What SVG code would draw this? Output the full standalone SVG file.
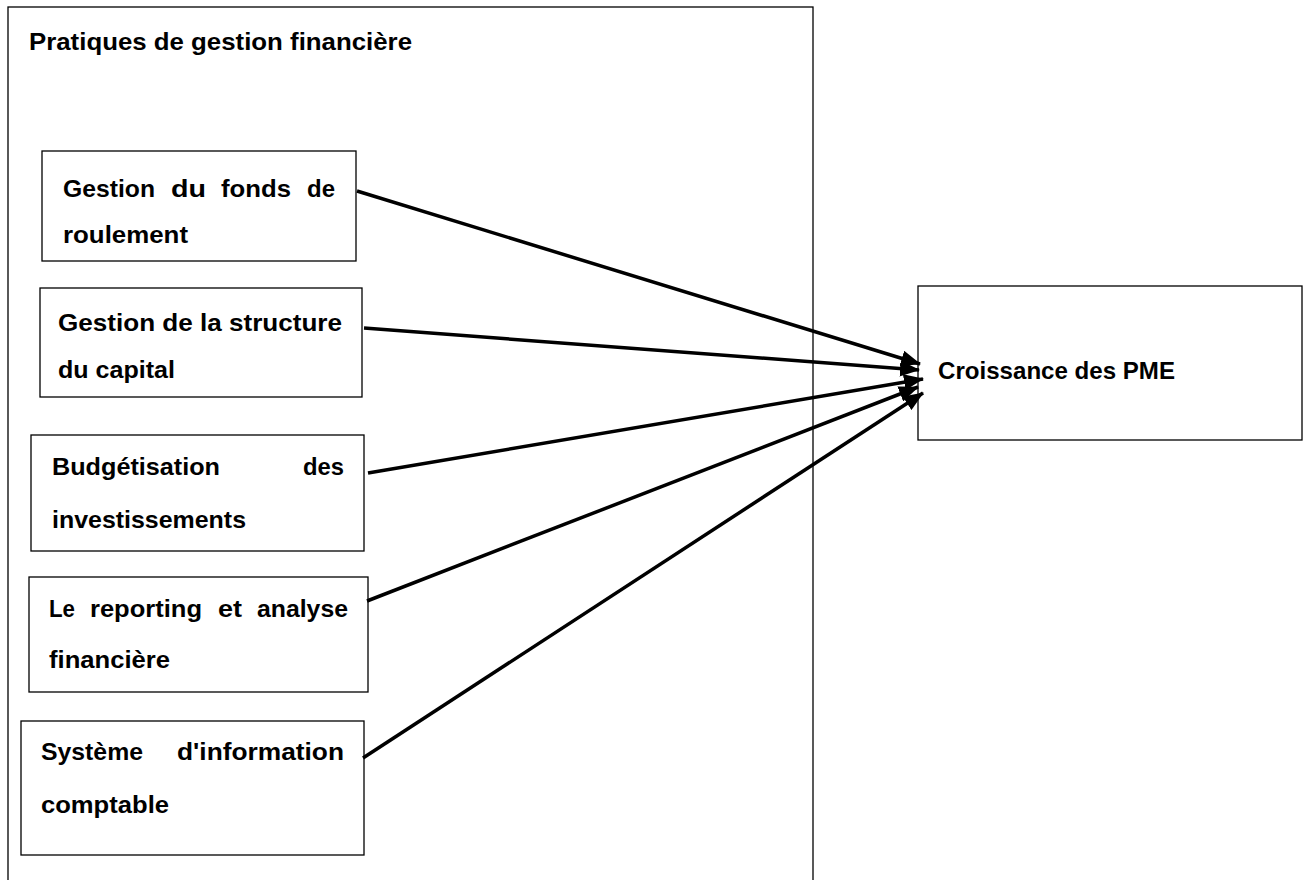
<svg xmlns="http://www.w3.org/2000/svg" width="1308" height="880" viewBox="0 0 1308 880">
  <style>
    .box { fill: #ffffff; stroke: #000000; stroke-width: 1.3; }
    .txt { font-family: "Liberation Sans", Arial, sans-serif; font-weight: bold; font-size: 24px; fill: #000000; }
    .conn { stroke: #000000; stroke-width: 3.5; fill: none; marker-end: url(#arrow); }
  </style>
  <defs>
    <marker id="arrow" markerUnits="userSpaceOnUse" markerWidth="20" markerHeight="16" refX="19" refY="8" orient="auto">
      <path d="M0,0 L20,8 L0,16 Z" fill="#000000"/>
    </marker>
  </defs>
  <rect width="1308" height="880" fill="#ffffff"/>

  <g id="outer">
    <rect class="box" x="8" y="7" width="805" height="890"/>
    <text class="txt" x="29" y="50" textLength="383" lengthAdjust="spacingAndGlyphs">Pratiques de gestion financière</text>
  </g>

  <g id="n1">
    <rect class="box" x="42" y="151" width="314" height="110"/>
    <text class="txt" y="197"><tspan x="63" textLength="92" lengthAdjust="spacingAndGlyphs">Gestion</tspan><tspan x="171" textLength="35" lengthAdjust="spacingAndGlyphs">du</tspan><tspan x="221" textLength="70" lengthAdjust="spacingAndGlyphs">fonds</tspan><tspan x="307" textLength="28" lengthAdjust="spacingAndGlyphs">de</tspan></text>
    <text class="txt" x="63" y="243" textLength="125" lengthAdjust="spacingAndGlyphs">roulement</text>
  </g>

  <g id="n2">
    <rect class="box" x="40" y="288" width="322" height="109"/>
    <text class="txt" x="58" y="331" textLength="284" lengthAdjust="spacingAndGlyphs">Gestion de la structure</text>
    <text class="txt" x="58" y="378" textLength="117" lengthAdjust="spacingAndGlyphs">du capital</text>
  </g>

  <g id="n3">
    <rect class="box" x="31" y="435" width="333" height="116"/>
    <text class="txt" y="475"><tspan x="52" textLength="168" lengthAdjust="spacingAndGlyphs">Budgétisation</tspan><tspan x="303" textLength="41" lengthAdjust="spacingAndGlyphs">des</tspan></text>
    <text class="txt" x="52" y="528" textLength="194" lengthAdjust="spacingAndGlyphs">investissements</text>
  </g>

  <g id="n4">
    <rect class="box" x="29" y="577" width="339" height="115"/>
    <text class="txt" y="617"><tspan x="49" textLength="26" lengthAdjust="spacingAndGlyphs">Le</tspan><tspan x="90" textLength="112" lengthAdjust="spacingAndGlyphs">reporting</tspan><tspan x="218" textLength="24" lengthAdjust="spacingAndGlyphs">et</tspan><tspan x="257" textLength="91" lengthAdjust="spacingAndGlyphs">analyse</tspan></text>
    <text class="txt" x="49" y="668" textLength="121" lengthAdjust="spacingAndGlyphs">financière</text>
  </g>

  <g id="n5">
    <rect class="box" x="21" y="721" width="343" height="134"/>
    <text class="txt" y="760"><tspan x="41" textLength="102" lengthAdjust="spacingAndGlyphs">Système</tspan><tspan x="177" textLength="167" lengthAdjust="spacingAndGlyphs">d'information</tspan></text>
    <text class="txt" x="41" y="813" textLength="128" lengthAdjust="spacingAndGlyphs">comptable</text>
  </g>

  <g id="target">
    <rect class="box" x="918" y="286" width="384" height="154"/>
    <text class="txt" x="938" y="379" textLength="237" lengthAdjust="spacingAndGlyphs">Croissance des PME</text>
  </g>

  <g id="connectors">
    <line class="conn" x1="357" y1="191" x2="920" y2="364"/>
    <line class="conn" x1="364" y1="328" x2="919" y2="370"/>
    <line class="conn" x1="368" y1="473" x2="923" y2="379"/>
    <line class="conn" x1="367" y1="601" x2="918" y2="387"/>
    <line class="conn" x1="363" y1="758" x2="923" y2="393"/>
  </g>
</svg>
